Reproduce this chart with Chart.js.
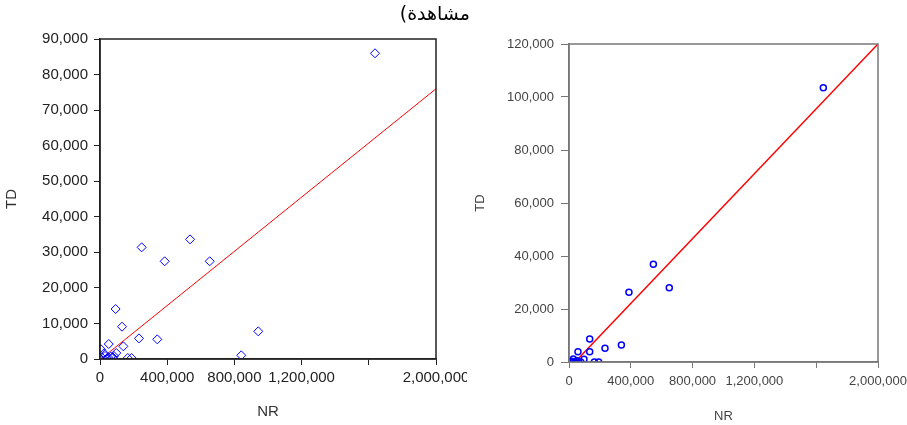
<!DOCTYPE html>
<html>
<head>
<meta charset="utf-8">
<script src="https://cdn.jsdelivr.net/npm/chart.js@4.4.1/dist/chart.umd.min.js"></script>
<style>
  html, body { margin: 0; padding: 0; background: #fff; width: 907px; height: 425px; overflow: hidden; position: relative; }
  #wrapL { position: absolute; left: 0; top: 0; width: 470px; height: 425px; }
  #wrapR { position: absolute; left: 467px; top: 0; width: 440px; height: 425px; background: #fff; }
  #ar { position: absolute; top: 2px; left: 380px; width: 90px; text-align: right; direction: rtl;
        font-family: "DejaVu Sans", sans-serif; font-size: 19px; color: #000; white-space: nowrap; }
</style>
</head>
<body>
<div id="wrapL"><canvas id="cL" width="470" height="425"></canvas></div>
<div id="wrapR"><canvas id="cR" width="440" height="425"></canvas></div>
<div id="ar">مشاهدة)</div>
<script>
// ---- data: left panel (diamonds) ----
const leftNR = [1637000, 248000, 536000, 385000, 653000, 93000, 131000, 139000, 232000, 341000, 942000, 841000,
                52000, 97000, 165000, 188000, 6000, 24000, 10000, 30000, 49000, 64000, 76000, 83000, 40000, 0];
const leftTD = [85980, 31400, 33650, 27480, 27480, 14060, 9090, 3560, 5800, 5530, 7780, 1030,
                4210, 1700, 280, 280, 2720, 1600, 480, 850, 480, 650, 480, 850, 100, 100];
const leftFitNR = [0, 2000000];
const leftFitTD = [-200, 76000];
const leftYTicks = [0, 10000, 20000, 30000, 40000, 50000, 60000, 70000, 80000, 90000];

// ---- data: right panel (circles) ----
const rightNR = [1646000, 546000, 388000, 649000, 134000, 339000, 233000, 134000, 58000, 97000, 28000, 164000, 192000,
                 6000, 39000, 60000, 76000, 17000, 50000];
const rightTD = [103500, 36870, 26300, 28040, 8680, 6420, 5170, 3890, 3890, 1020, 1130, 0, 0,
                 0, 0, 0, 0, 260, 490];
const rightFitNR = [39000, 2000000];
const rightFitTD = [0, 120000];
const rightYTicks = [0, 20000, 40000, 60000, 80000, 100000, 120000];

const xTickValues = [0, 400000, 800000, 1200000, 1600000, 2000000];
const xTickLabels = ['0', '400,000', '800,000', '1,200,000', '', '2,000,000'];

function pts(xs, ys) { return xs.map((x, i) => ({x: x, y: ys[i]})); }
function fmt(v) { return v.toLocaleString('en-US'); }

const boxPlugin = {
  id: 'box',
  afterDraw(chart, args, opts) {
    const a = chart.chartArea, ctx = chart.ctx;
    ctx.save();
    ctx.strokeStyle = opts.color;
    ctx.lineWidth = opts.width;
    ctx.strokeRect(a.left, a.top, a.right - a.left, a.bottom - a.top);
    ctx.restore();
  }
};

function makeChart(id, cfg) {
  const font = {family: '"Liberation Sans", Arial, sans-serif', size: cfg.fs};
  const lay = {yw: cfg.area.left, xh: cfg.h - cfg.area.bottom, top: cfg.area.top, right: cfg.w - cfg.area.right};
  const chart = new Chart(document.getElementById(id), {
    type: 'scatter',
    data: {
      datasets: [
        {
          data: pts(cfg.nr, cfg.td),
          pointStyle: cfg.pointStyle,
          pointRadius: cfg.pr,
          pointBorderColor: '#0000ff',
          pointBackgroundColor: 'rgba(0,0,0,0)',
          pointBorderWidth: cfg.pbw,
          showLine: false,
          order: 1
        },
        {
          data: pts(cfg.fitX, cfg.fitY),
          showLine: true,
          borderColor: '#ff0000',
          borderWidth: cfg.lw,
          pointRadius: 0,
          order: 2
        }
      ]
    },
    options: {
      responsive: false,
      animation: false,
      events: [],
      layout: {autoPadding: false, padding: {top: lay.top, right: lay.right, left: 0, bottom: 0}},
      plugins: {legend: {display: false}, tooltip: {enabled: false}, box: {color: cfg.frame, width: cfg.fw}},
      scales: {
        x: {
          type: 'linear', min: 0, max: 2000000,
          afterBuildTicks: s => { s.ticks = xTickValues.map(v => ({value: v})); },
          afterFit: s => { s.height = lay.xh; s.paddingLeft = 0; s.paddingRight = 0; },
          ticks: {
            callback: (v) => xTickLabels[xTickValues.indexOf(v)] ?? '',
            autoSkip: false, maxRotation: 0, minRotation: 0,
            font: font, color: cfg.labelColor, padding: cfg.xpad
          },
          grid: {drawOnChartArea: false, drawTicks: true, tickLength: cfg.xtl, color: cfg.tickColor, lineWidth: 1},
          border: {display: true, color: cfg.frame, width: cfg.fw},
          title: {display: true, text: 'NR', font: {family: font.family, size: cfg.fs}, color: cfg.titleColor,
                  padding: {top: 0, bottom: cfg.nrPad}}
        },
        y: {
          type: 'linear', min: 0, max: cfg.ymax,
          afterBuildTicks: s => { s.ticks = cfg.yTicks.map(v => ({value: v})); },
          afterFit: s => { s.width = lay.yw; s.paddingTop = 0; s.paddingBottom = 0; },
          ticks: {callback: v => fmt(v), font: font, color: cfg.labelColor, padding: cfg.ypad},
          grid: {drawOnChartArea: false, drawTicks: true, tickLength: cfg.ytl, color: cfg.tickColor, lineWidth: 1},
          border: {display: true, color: cfg.frame, width: cfg.fw},
          title: {display: true, text: 'TD', font: {family: font.family, size: cfg.fs}, color: cfg.titleColor,
                  padding: {top: cfg.tdPad, bottom: 0}}
        }
      }
    },
    plugins: [boxPlugin]
  });
  // nudge layout so the plot area lands where the reference has it
  for (let i = 0; i < 3; i++) {
    const a = chart.chartArea;
    lay.yw += cfg.area.left - a.left;
    lay.xh += a.bottom - cfg.area.bottom;
    lay.top += cfg.area.top - a.top;
    lay.right += a.right - cfg.area.right;
    chart.options.layout.padding.top = lay.top;
    chart.options.layout.padding.right = lay.right;
    chart.update('none');
  }
  return chart;
}

makeChart('cL', {
  w: 470, h: 425, area: {left: 100, top: 39, right: 436, bottom: 359},
  nr: leftNR, td: leftTD, fitX: leftFitNR, fitY: leftFitTD, yTicks: leftYTicks, ymax: 90000,
  pointStyle: 'rectRot', pr: 4.5, pbw: 1, lw: 1,
  fs: 15, labelColor: '#222', titleColor: '#333', tickColor: '#222', frame: '#222', fw: 1.5,
  xpad: 4, ypad: 6, xtl: 6, ytl: 6, nrPad: 4, tdPad: 3
});

makeChart('cR', {
  w: 440, h: 425, area: {left: 102, top: 44, right: 411, bottom: 362},
  nr: rightNR, td: rightTD, fitX: rightFitNR, fitY: rightFitTD, yTicks: rightYTicks, ymax: 120000,
  pointStyle: 'circle', pr: 3, pbw: 1.5, lw: 1.5,
  fs: 13, labelColor: '#444', titleColor: '#444', tickColor: '#777', frame: '#777', fw: 1.5,
  xpad: 6, ypad: 7, xtl: 6, ytl: 8, nrPad: 1, tdPad: 6
});
</script>
</body>
</html>
